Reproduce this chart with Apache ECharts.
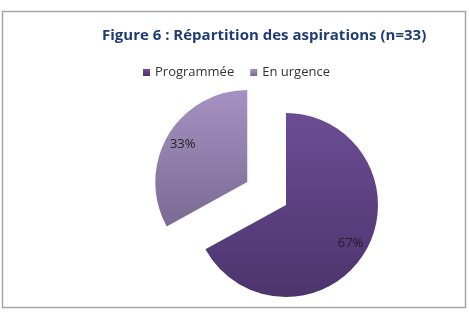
<!DOCTYPE html>
<html>
<head>
    <meta charset="UTF-8">
    <script src="https://cdn.jsdelivr.net/npm/echarts@6/dist/echarts.min.js"></script>
    <style>
        html, body { margin: 0; padding: 0; background: #fff; }
        #main { width: 469px; height: 314px; }
    </style>
</head>
<body>
<div id="main"></div>
<script type="text/javascript">
    // donnees
    var categories = ['Programmée', 'En urgence'];
    var values = [67, 33];
    var exploded = [false, true];

    var colorsTop = ['#6c4d95', '#a692c2'];
    var colorsBottom = ['#4c346d', '#7b6a94'];

    function grad(i) {
        return new echarts.graphic.LinearGradient(0, 0, 0, 1, [
            {offset: 0, color: colorsTop[i]},
            {offset: 1, color: colorsBottom[i]}
        ]);
    }

    var pieData = [], labelData = [];
    for (var i = 0; i < categories.length; i++) {
        pieData.push({name: categories[i], value: values[i], selected: exploded[i], itemStyle: {color: grad(i)}});
        labelData.push({name: categories[i], value: values[i], selected: exploded[i]});
    }

    var myChart = echarts.init(document.getElementById('main'));
    var option = {
        animation: false,
        color: ['#5f4585', '#9a88b4'],
        title: {
            text: 'Figure 6 : Répartition des aspirations (n=33)',
            left: 97,
            top: 23,
            textStyle: {
                color: '#1f3d73',
                fontFamily: 'Open Sans',
                fontWeight: 'bold',
                fontSize: 15
            }
        },
        legend: {
            data: categories,
            top: 61,
            left: 138,
            itemWidth: 7,
            itemHeight: 7,
            itemGap: 16,
            icon: 'rect',
            textStyle: {fontFamily: 'Open Sans', fontSize: 13, color: '#333'}
        },
        graphic: [{
            type: 'rect',
            shape: {x: 2.5, y: 11.5, width: 463, height: 296},
            style: {fill: null, stroke: '#a6a6a6', lineWidth: 1.5},
            silent: true
        }],
        series: [
            {
                type: 'pie',
                center: [286, 205],
                radius: [0, 92],
                startAngle: 90,
                clockwise: true,
                selectedMode: 'multiple',
                selectedOffset: 45,
                label: {show: false},
                labelLine: {show: false},
                emphasis: {disabled: true},
                data: pieData
            },
            {
                type: 'pie',
                center: [286, 205],
                radius: [52, 92],
                startAngle: 90,
                clockwise: true,
                selectedMode: 'multiple',
                selectedOffset: 45,
                silent: true,
                itemStyle: {color: 'rgba(0,0,0,0)'},
                label: {
                    show: true,
                    position: 'inside',
                    formatter: '{d}%',
                    fontFamily: 'Open Sans',
                    fontSize: 13,
                    color: '#222'
                },
                labelLine: {show: false},
                emphasis: {disabled: true},
                data: labelData
            }
        ]
    };
    myChart.setOption(option);
</script>
</body>
</html>
